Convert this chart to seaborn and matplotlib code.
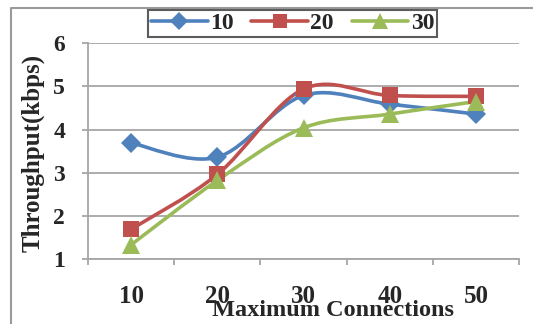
import numpy as np
import pandas as pd
import matplotlib
matplotlib.use("Agg")
import matplotlib.pyplot as plt
from matplotlib.path import Path
from matplotlib.patches import PathPatch
from matplotlib.lines import Line2D
import seaborn as sns

# Data
connections = [10, 20, 30, 40, 50]
series_names = ["10", "20", "30"]
thr_10 = [3.69, 3.36, 4.79, 4.59, 4.36]
thr_20 = [1.69, 2.96, 4.94, 4.79, 4.77]
thr_30 = [1.33, 2.82, 4.04, 4.36, 4.65]
y_ticks = [1, 2, 3, 4, 5, 6]

colors = {"10": "#4F81BD", "20": "#C0504D", "30": "#9BBB59"}
markers = {"10": "D", "20": "s", "30": "^"}
msizes = {"10": 10, "20": 11.5, "30": 12.5}

df = pd.DataFrame({
    "conn": connections * 3,
    "thr": thr_10 + thr_20 + thr_30,
    "series": [s for s in series_names for _ in connections],
})

sns.set_style("white")
plt.rcParams["font.family"] = ["Liberation Serif", "DejaVu Serif"]
plt.rcParams["font.weight"] = "bold"

fig = plt.figure(figsize=(5.33, 3.24), dpi=100)
ax = fig.add_axes([88 / 533, 1 - 259 / 324, (519 - 88) / 533, (259 - 43.3) / 324])


def smooth_path(xs, ys):
    """Cubic Bezier path through the points (Catmull-Rom style smoothing)."""
    pts = np.column_stack([xs, ys]).astype(float)
    n = len(pts)
    verts = [pts[0]]
    codes = [Path.MOVETO]
    for i in range(n - 1):
        p0 = pts[i - 1] if i > 0 else pts[i]
        p1 = pts[i]
        p2 = pts[i + 1]
        p3 = pts[i + 2] if i + 2 < n else pts[i + 1]
        verts += [p1 + (p2 - p0) / 6, p2 - (p3 - p1) / 6, p2]
        codes += [Path.CURVE4] * 3
    return Path(verts, codes)


# Smoothed connecting lines
for name in series_names:
    sub = df[df["series"] == name]
    patch = PathPatch(smooth_path(sub["conn"], sub["thr"]), facecolor="none",
                      edgecolor=colors[name], lw=2.6, zorder=3, capstyle="round")
    ax.add_patch(patch)

# Point markers
for name in series_names:
    sns.lineplot(data=df[df["series"] == name], x="conn", y="thr",
                 color=colors[name], marker=markers[name], markersize=msizes[name],
                 mew=0, lw=0, ax=ax, legend=False, zorder=4)

ax.set_xlim(5, 55)
ax.set_ylim(1, 6)
ax.set_yticks(y_ticks)
ax.set_xticks(connections)
ax.set_xticks([5, 15, 25, 35, 45, 55], minor=True)
ax.set_xticklabels([str(c) for c in connections])

grid_c = "#A6A6A6"
ax.yaxis.grid(True, color=grid_c, lw=1.3)
ax.xaxis.grid(False)
for side in ["top", "right"]:
    ax.spines[side].set_visible(False)
for side in ["left", "bottom"]:
    ax.spines[side].set_color(grid_c)
    ax.spines[side].set_linewidth(1.3)

ax.tick_params(axis="y", which="major", left=True, length=4.5, width=1.3,
               color=grid_c, pad=12, labelsize=17)
ax.tick_params(axis="x", which="major", bottom=True, length=0, pad=19, labelsize=18)
ax.tick_params(axis="x", which="minor", bottom=True, length=4.5, width=1.3, color=grid_c)

ax.set_xlabel("Maximum Connections", fontsize=17.5, fontweight="bold")
ax.xaxis.set_label_coords(0.568, -0.19)
ax.set_ylabel("Throughput(kbps)", fontsize=18, fontweight="bold")
ax.yaxis.set_label_coords(-0.1, 0.493)

handles = [Line2D([], [], color=colors[n], lw=2.6, marker=markers[n],
                  markersize=msizes[n] - 1, mew=0) for n in series_names]
leg = fig.legend(handles, series_names, loc="center", ncol=3,
                 bbox_to_anchor=(292.5 / 533, 1 - 23.5 / 324), frameon=True,
                 fancybox=False, fontsize=17, handlelength=2.4,
                 handletextpad=0.1, columnspacing=0.75, borderpad=0.12,
                 borderaxespad=0)
leg.get_frame().set_edgecolor("#333333")
leg.get_frame().set_linewidth(1.5)

# Outer chart frame (top and left edges)
fig.add_artist(Line2D([11 / 533, 11 / 533, 1.0], [0.0, 1 - 8 / 324, 1 - 8 / 324],
                      transform=fig.transFigure, color="#9A9A9A", lw=1.5))

fig.savefig("out.png", dpi=100)
